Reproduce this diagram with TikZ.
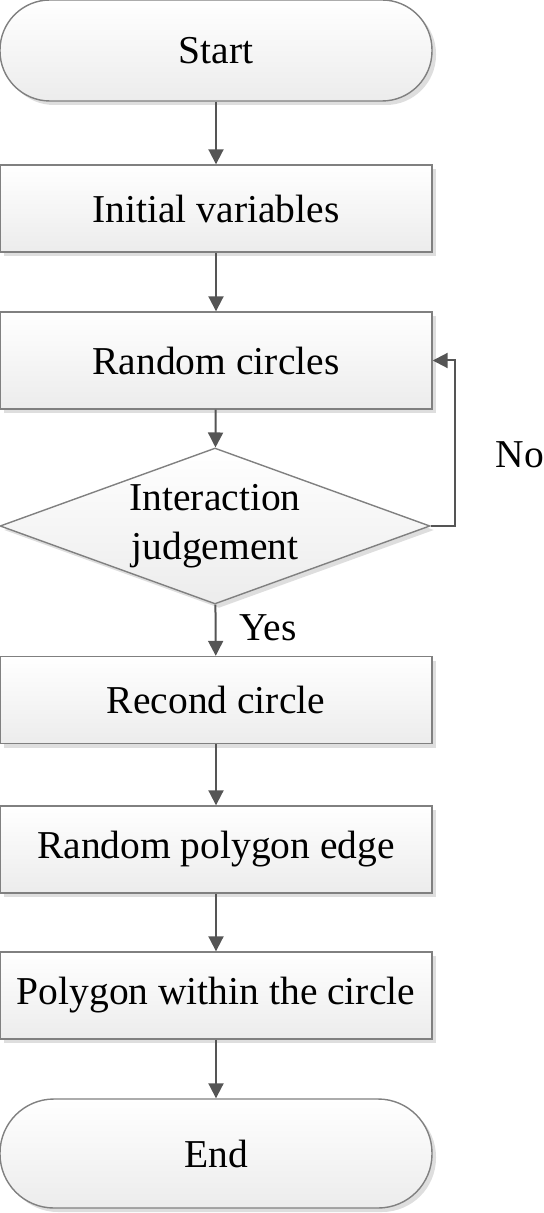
\documentclass[tikz,border=0pt]{standalone}
\usepackage{fontspec}
\setmainfont{Liberation Serif}
\usepackage{tikz}
\usetikzlibrary{shapes.geometric, arrows.meta, positioning, shadows}
\usepackage{xcolor}
\definecolor{boxtop}{RGB}{255,255,255}
\definecolor{boxbottom}{RGB}{236,236,236}
\definecolor{bordercolor}{RGB}{128,128,128}
\definecolor{arrowcolor}{RGB}{85,85,85}
\definecolor{shadowcolor}{RGB}{222,222,222}

\begin{document}
\begin{tikzpicture}[x=0.5pt, y=-0.5pt,
  % Node styles
  procbox/.style={
    rectangle,
    draw=bordercolor,
    line width=0.7pt,
    top color=boxtop,
    bottom color=boxbottom,
    minimum width=216pt,
    minimum height=43.5pt,
    inner sep=0pt,
    font=\fontsize{19.75}{24.5}\selectfont,
    drop shadow={shadow xshift=2pt, shadow yshift=-2pt, fill=shadowcolor, opacity=1}
  },
  termbox/.style={
    procbox,
    rounded corners=25pt
  },
  decisionbox/.style={
    diamond,
    aspect=2.76,
    draw=bordercolor,
    line width=0.7pt,
    top color=boxtop,
    bottom color=boxbottom,
    minimum width=215pt,
    minimum height=78pt,
    inner sep=0pt,
    align=center,
    font=\fontsize{19.75}{24.5}\selectfont,
    drop shadow={shadow xshift=2pt, shadow yshift=-2pt, fill=shadowcolor, opacity=1}
  },
  branchlabel/.style={
    inner sep=0pt,
    font=\fontsize{19.75}{24.5}\selectfont
  },
  arrow/.style={
    -{Triangle[length=7.5pt, width=7.5pt]},
    line width=1pt,
    draw=arrowcolor
  }
]
\useasboundingbox (0,0) rectangle (544,1213);

% ===== MAIN FLOW =====
\node[termbox, minimum height=50.5pt] (start) at (216,50.5) {Start};
\node[procbox] (init) at (216,208.5) {Initial variables};
\node[procbox, minimum height=48.5pt] (rand) at (216,360.5) {Random circles};
\node[decisionbox] (judge) at (215,526) {Interaction\\judgement};
\node[procbox] (recond) at (216,700) {Recond circle};
\node[procbox] (edge) at (216,849.5) {Random polygon edge};
\node[procbox] (poly) at (216,995.5) {Polygon within the circle};
\node[termbox, minimum height=54.5pt, rounded corners=27pt] (finish) at (216,1153.5) {End};

% ===== BRANCH LABELS =====
\node[branchlabel] (yes) at (268,628) {Yes};
\node[branchlabel] (no) at (520,455) {No};

% ===== ARROWS =====
\draw[arrow] (start) -- (init);
\draw[arrow] (init) -- (rand);
\draw[arrow] (rand) -- (judge);
\draw[arrow] (judge) -- (recond);
\draw[arrow] (recond) -- (edge);
\draw[arrow] (edge) -- (poly);
\draw[arrow] (poly) -- (finish);

% loop back when the circles interact
\draw[arrow] (judge.east) -- ++(24,0) |- (rand.east);

\end{tikzpicture}
\end{document}
